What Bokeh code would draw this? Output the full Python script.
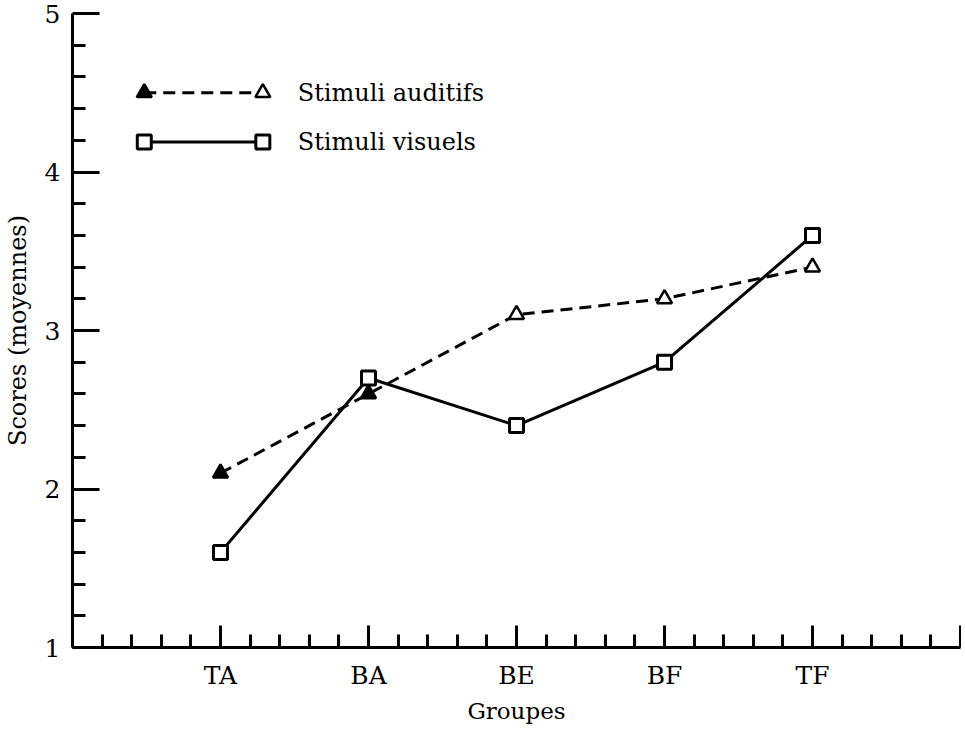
from bokeh.plotting import figure
from bokeh.models import FixedTicker, Label, Range1d
from bokeh.embed import file_html
from bokeh.resources import INLINE

# ---- data ----
groupes = ["TA", "BA", "BE", "BF", "TF"]
auditifs = [2.1, 2.6, 3.1, 3.2, 3.4]
visuels = [1.6, 2.7, 2.4, 2.8, 3.6]
y_ticks = [1, 2, 3, 4, 5]
series_names = ["Stimuli auditifs", "Stimuli visuels"]
x_label = "Groupes"
y_label = "Scores (moyennes)"

# ---- style ----
FONT = "DejaVu Serif"
xpos = list(range(1, len(groupes) + 1))
tri_fill = ["black", "black", "white", "white", "white"]
leg_x = [0.485, 1.286]
leg_text_x = 1.522
leg_y = [4.50, 4.19]

p = figure(width=961, height=729, output_backend="svg", toolbar_location=None,
           x_range=Range1d(0, 6), y_range=Range1d(1, 5),
           min_border_left=69, min_border_top=13, min_border_right=1,
           min_border_bottom=82, background_fill_color="white",
           border_fill_color="white")
p.outline_line_color = None
p.grid.visible = False

minor_x = [round(0.2 * k, 1) for k in range(1, 30) if k % 5]
minor_y = [round(1 + 0.2 * k, 1) for k in range(1, 20) if k % 5]

p.xaxis.ticker = FixedTicker(ticks=xpos + [6], minor_ticks=minor_x)
overrides = {float(i): g for i, g in zip(xpos, groupes)}
overrides[6.0] = ""
p.xaxis.major_label_overrides = overrides
p.yaxis.ticker = FixedTicker(ticks=y_ticks, minor_ticks=minor_y)

for ax in (p.xaxis[0], p.yaxis[0]):
    ax.axis_line_width = 3
    ax.axis_line_color = "black"
    ax.major_tick_line_width = 3
    ax.minor_tick_line_width = 3
    ax.major_tick_line_color = "black"
    ax.minor_tick_line_color = "black"
    ax.major_tick_out = 0
    ax.minor_tick_out = 0
    ax.minor_tick_in = 13
    ax.major_label_text_font = FONT
    ax.major_label_text_font_size = "25px"
    ax.major_label_text_color = "black"
    ax.axis_label_text_font = FONT
    ax.axis_label_text_font_size = "24px"
    ax.axis_label_text_font_style = "normal"
    ax.axis_label_text_color = "black"

p.xaxis.axis_label_text_font_size = "23px"
p.xaxis.major_tick_in = 22
p.yaxis.major_tick_in = 27
p.xaxis.major_label_standoff = 13
p.yaxis.major_label_standoff = 12
p.xaxis.axis_label_standoff = 5
p.yaxis.axis_label_standoff = 10
p.xaxis.axis_label = x_label
p.yaxis.axis_label = y_label

# ---- series ----
p.line(xpos, auditifs, line_width=3, line_dash="12 7", line_color="black")
p.line(xpos, visuels, line_width=3, line_color="black")
p.scatter(xpos, auditifs, marker="triangle", size=15, fill_color=tri_fill,
          line_color="black", line_width=2.5)
p.scatter(xpos, visuels, marker="square", size=14, fill_color="white",
          line_color="black", line_width=3)

# ---- legend (drawn) ----
p.line(leg_x, [leg_y[0]] * 2, line_width=3, line_dash="12 7", line_color="black")
p.scatter(leg_x, [leg_y[0]] * 2, marker="triangle", size=15,
          fill_color=["black", "white"], line_color="black", line_width=2.5)
p.line(leg_x, [leg_y[1]] * 2, line_width=3, line_color="black")
p.scatter(leg_x, [leg_y[1]] * 2, marker="square", size=14, fill_color="white",
          line_color="black", line_width=3)
for name, yy in zip(series_names, leg_y):
    p.add_layout(Label(x=leg_text_x, y=yy, text=name, text_baseline="middle",
                       text_font=FONT, text_font_size="24px", text_color="black"))

open("out.html", "w").write(file_html(p, INLINE))
